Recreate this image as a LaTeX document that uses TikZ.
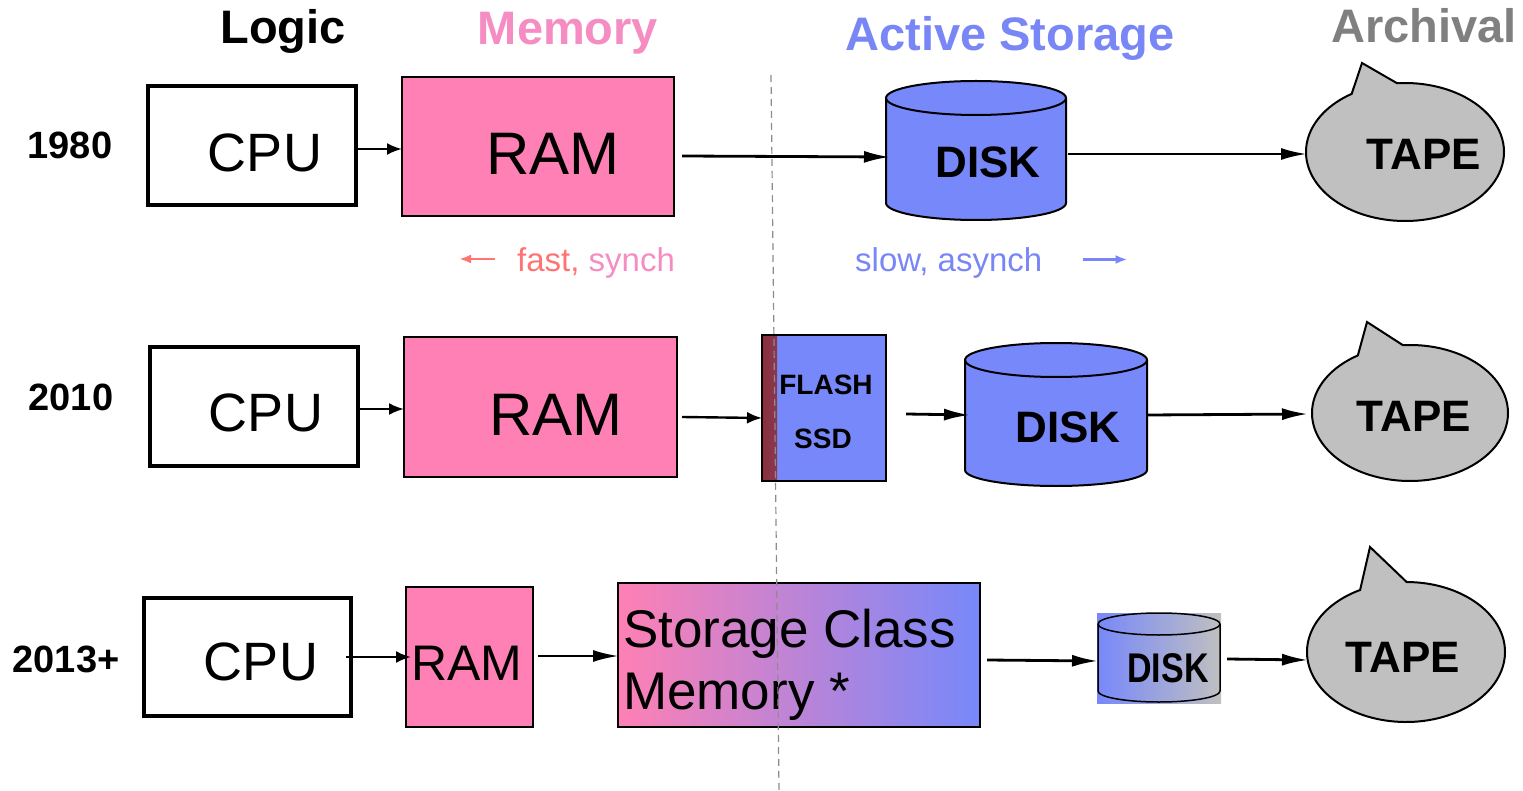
\documentclass[tikz,border=0pt]{standalone}
\usepackage{fontspec}
\setmainfont{Liberation Sans}
\usetikzlibrary{arrows.meta}
\usetikzlibrary{shapes.callouts}
\usetikzlibrary{calc}
\definecolor{rampink}{HTML}{FF80B4}
\definecolor{mempink}{HTML}{F58DC2}
\definecolor{diskblue}{HTML}{7788FA}
\definecolor{actblue}{HTML}{7986F5}
\definecolor{tapegray}{HTML}{C0C0C0}
\definecolor{archgray}{HTML}{808080}
\definecolor{flashred}{HTML}{8B2E3A}
\definecolor{fastred}{HTML}{FF7373}
\definecolor{divgray}{HTML}{8C8C8C}
\tikzset{hdr/.style = {inner sep = 0, anchor = base, font = \fontsize{47}{50}\selectfont\bfseries}}
\tikzset{yr/.style = {inner sep = 0, anchor = base, font = \fontsize{38}{40}\selectfont\bfseries}}
\tikzset{big/.style = {inner sep = 0, anchor = base, font = \fontsize{54}{58}\selectfont}}
\tikzset{bold/.style = {inner sep = 0, anchor = base, font = \fontsize{44}{48}\selectfont\bfseries}}
\tikzset{cpubox/.style = {draw, line width = 3.5pt, inner sep = 0, outer sep = 0, fill = white}}
\tikzset{rambox/.style = {draw, line width = 1.5pt, inner sep = 0, outer sep = 0, fill = rampink}}
\tikzset{body/.style = {inner sep = 0, outer sep = 0}}
\tikzset{tape/.style = {ellipse callout, draw, fill = tapegray, line width = 2pt, inner sep = 0, outer sep = 0,
    minimum width = 198, minimum height = 138, callout pointer arc = 28}}
\tikzset{arr/.style = {line width = 2.8pt, -{Latex[length = 26pt, width = 12pt]}}}
\tikzset{sarr/.style = {line width = 2.4pt, -{Latex[length = 15pt, width = 12pt]}}}
\tikzset{larr/.style = {line width = 2.5pt, -{Latex[length = 12pt, width = 9pt]}}}
\begin{document}
\begin{tikzpicture}[x = 1pt, y = -1pt]
  \useasboundingbox (0, 0) rectangle (1523, 791);
  \node [hdr] at (283, 44) {Logic};
  \node [hdr, text = mempink] at (568, 45) {Memory};
  \node [hdr, text = actblue] at (1010, 51) {Active Storage};
  \node [hdr, text = archgray] at (1424, 43) {Archival};

  % 1980
  \node [yr] at (70, 159) {1980};
  \node [cpubox, minimum width = 208, minimum height = 119] (cpu1) at (252, 145.5) {};
  \node [big] at (265, 172) {CPU};
  \node [rambox, minimum width = 272, minimum height = 139] (ram1) at (538, 146.5) {};
  \node [big, font = \fontsize{60}{64}\selectfont] at (553, 175) {RAM};
  \draw [line width = 2pt, fill = diskblue] (886, 98) -- (886, 203) arc [start angle = 180, end angle = 360, x radius = 90pt, y radius = 17pt]
    -- (1066, 98) arc [start angle = 0, end angle = 180, x radius = 90pt, y radius = 17pt] -- cycle;
  \draw [line width = 2pt] (886, 98) arc [start angle = 180, end angle = 360, x radius = 90pt, y radius = 17pt];
  \node [body, minimum width = 180, minimum height = 105] (disk1) at (976, 150.5) {};
  \node [bold] at (988, 178) {DISK};
  \node [tape, callout absolute pointer = {(1362, 63)}] (tape1) at (1405, 152) {};
  \node [bold] at (1424, 170) {TAPE};
  \draw [sarr] ($(cpu1.east) + (0, 3.5)$) -- ($(ram1.west) + (0, 2.5)$);
  \draw [arr] ($(ram1.east) + (8, 9.5)$) -- ($(disk1.west) + (4, 6.5)$);
  \draw [arr] ($(disk1.east) + (2, 3.5)$) -- ($(tape1.west) + (1, 2)$);

  \node [inner sep = 0, anchor = base west, font = \fontsize{33}{36}\selectfont] (fast) at (517, 272) {\textcolor{fastred}{fast,} \textcolor{mempink}{synch}};
  \node [inner sep = 0, anchor = base west, font = \fontsize{33}{36}\selectfont, text = actblue] (slow) at (855, 272) {slow, asynch};
  \draw [larr, fastred] ($(fast.west) + (-22, -4.5)$) -- ++(-36, 0);
  \draw [larr, actblue] ($(slow.east) + (40, -4)$) -- ++(45, 0);

  % 2010
  \node [yr] at (71, 410) {2010};
  \node [cpubox, minimum width = 208, minimum height = 119] (cpu2) at (254, 406.5) {};
  \node [big] at (266, 431) {CPU};
  \node [rambox, minimum width = 273, minimum height = 140] (ram2) at (540.5, 407) {};
  \node [big, font = \fontsize{60}{64}\selectfont] at (556, 435) {RAM};
  \node [draw, line width = 1.5pt, fill = diskblue, inner sep = 0, outer sep = 0, minimum width = 124, minimum height = 146,
    path picture = {\shade [left color = flashred, right color = diskblue] (path picture bounding box.north west)
      rectangle ([xshift = 15pt] path picture bounding box.south west);}] (flash) at (824, 408) {};
  \node [bold, font = \fontsize{28}{30}\selectfont\bfseries] at (826, 394) {FLASH};
  \node [bold, font = \fontsize{28}{30}\selectfont\bfseries] at (823, 448) {SSD};
  \draw [line width = 2pt, fill = diskblue] (965, 360) -- (965, 470) arc [start angle = 180, end angle = 360, x radius = 91pt, y radius = 16pt]
    -- (1147, 360) arc [start angle = 0, end angle = 180, x radius = 91pt, y radius = 17pt] -- cycle;
  \draw [line width = 2pt] (965, 360) arc [start angle = 180, end angle = 360, x radius = 91pt, y radius = 17pt];
  \node [body, minimum width = 182, minimum height = 110] (disk2) at (1056, 415) {};
  \node [bold] at (1068, 442) {DISK};
  \node [tape, minimum width = 196, minimum height = 136, callout absolute pointer = {(1367, 322)}] (tape2) at (1410, 413) {};
  \node [bold] at (1414, 431) {TAPE};
  \draw [sarr] ($(cpu2.east) + (0, 2.5)$) -- ($(ram2.west) + (0, 2)$);
  \draw [sarr] ($(ram2.east) + (5, 10)$) -- ($(flash.west) + (0, 10)$);
  \draw [arr] ($(flash.east) + (20, 6)$) -- ($(disk2.west) + (5, 0)$);
  \draw [arr] (disk2.east) -- ($(tape2.west) + (-4, 1)$);

  % 2013+
  \node [yr] at (66, 672) {2013+};
  \node [cpubox, minimum width = 207, minimum height = 118] (cpu3) at (247.5, 657) {};
  \node [big] at (261, 680) {CPU};
  \node [rambox, minimum width = 127, minimum height = 140] (ram3) at (469.5, 657) {};
  \node [big, anchor = base west, font = \fontsize{50}{54}\selectfont] at (411, 680) {RAM};
  \node [draw, line width = 2pt, inner sep = 0, outer sep = 0, left color = rampink, right color = diskblue,
    minimum width = 362, minimum height = 144] (scm) at (799, 655) {};
  \node [big, anchor = base west, font = \fontsize{53}{56}\selectfont] at (623, 647) {Storage Class};
  \node [big, anchor = base west, font = \fontsize{53}{56}\selectfont] at (623, 709) {Memory *};
  \node [body, left color = diskblue, right color = tapegray, minimum width = 124, minimum height = 90] (disk3) at (1159, 658) {};
  \draw [line width = 1.5pt] (1098, 624) -- (1098, 691) arc [start angle = 180, end angle = 360, x radius = 61pt, y radius = 11pt]
    -- (1220, 624) arc [start angle = 0, end angle = 180, x radius = 61pt, y radius = 11pt] -- cycle;
  \draw [line width = 1.5pt] (1098, 624) arc [start angle = 180, end angle = 360, x radius = 61pt, y radius = 11pt];
  \node [bold, font = \fontsize{34}{36}\selectfont\bfseries] at (1168, 682) {\scalebox{1}[1.22]{DISK}};
  \node [tape, minimum width = 198, minimum height = 140, callout absolute pointer = {(1370, 547)}] (tape3) at (1406, 652) {};
  \node [bold] at (1403, 672) {TAPE};
  \draw [sarr] ($(cpu3.east) + (-5, 0)$) -- ($(ram3.west) + (5, 0)$);
  \draw [arr] ($(ram3.east) + (5, -1)$) -- ($(scm.west) + (1, 1)$);
  \draw [arr] ($(scm.east) + (7, 5)$) -- ($(disk3.west) + (1, 3)$);
  \draw [arr] ($(disk3.east) + (6, 1)$) -- ($(tape3.west) + (1, 8)$);

  \coordinate (divtop) at (771, 75);
  \coordinate (divbot) at (779, 791);
  \draw [divgray, line width = 1.2pt, dash pattern = on 7pt off 5pt] (divtop) -- (divbot);
\end{tikzpicture}
\end{document}
